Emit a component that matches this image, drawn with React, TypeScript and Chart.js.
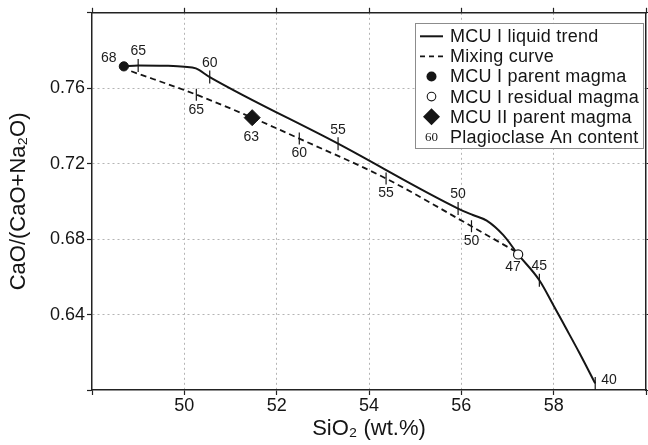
import React, { useEffect, useRef } from 'react';
import { Chart, registerables } from 'chart.js';

Chart.register(...registerables);

// ---------- data ----------
// MCU I liquid trend (solid curve)
const liquidSiO2 = [48.69, 49.0, 49.6, 50.0, 50.25, 50.55, 53.33, 55.93, 56.25, 56.55, 56.91, 57.23, 57.69, 58.0, 58.25, 58.55, 58.9];
const liquidRatio = [0.7716, 0.7721, 0.7719, 0.7714, 0.7705, 0.7659, 0.7306, 0.6962, 0.6928, 0.6898, 0.6821, 0.6719, 0.6582, 0.6447, 0.6335, 0.6200, 0.6035];

// Mixing curve (dashed)
const mixSiO2 = [48.85, 50.26, 51.47, 52.49, 54.37, 56.22, 57.17];
const mixRatio = [0.7690, 0.7566, 0.7444, 0.7333, 0.7121, 0.6868, 0.6735];

// Plagioclase An content marks on the liquid trend
const liquidAnSiO2 = [49.0, 50.55, 53.33, 55.93, 57.69, 58.9];
const liquidAnRatio = [0.7721, 0.7659, 0.7306, 0.6962, 0.6582, 0.6035];
const liquidAnLabels = ['65', '60', '55', '50', '45', '40'];

// Plagioclase An content marks on the mixing curve
const mixAnSiO2 = [50.26, 52.49, 54.37, 56.22];
const mixAnRatio = [0.7566, 0.7333, 0.7121, 0.6868];
const mixAnLabels = ['65', '60', '55', '50'];

// Magmas
const mcu1Parent = [48.69, 0.7716];
const mcu1ParentAn = '68';
const mcu1Residual = [57.23, 0.6719];
const mcu1ResidualAn = '47';
const mcu2Parent = [51.47, 0.7444];
const mcu2ParentAn = '63';

// Axes
const xMin = 48, xMax = 60, xStep = 2;
const yMin = 0.60, yMax = 0.80, yStep = 0.04;
const xTitle = 'SiO₂ (wt.%)';
const yTitle = 'CaO/(CaO+Na₂O)';

// Legend
const legendLabels = [
  'MCU I liquid trend',
  'Mixing curve',
  'MCU I parent magma',
  'MCU I residual magma',
  'MCU II parent magma',
  'Plagioclase An content',
];
const legendAnSample = '60';

// ---------- helpers ----------
const SANS = '"Liberation Sans", Arial, Helvetica, sans-serif';
const INK = '#151515';
const pts = (xs: number[], ys: number[]) => xs.map((x, i) => ({ x, y: ys[i] }));
const near = (a: number, b: number) => Math.abs(a - b) < 1e-6;

// label offsets (px) per dataset role
const labelPlacement: Record<string, (i: number) => [number, number, CanvasTextAlign]> = {
  liquidAn: (i) => (i === liquidAnLabels.length - 1 ? [6, -3, 'left'] : [0, -14, 'center']),
  mixAn: () => [0, 15, 'center'],
  parent1: () => [-15, -8, 'center'],
  residual1: () => [-5, 13, 'center'],
  parent2: () => [-1, 19, 'center'],
};

const anLabelPlugin = {
  id: 'anLabels',
  afterDatasetsDraw(chart: any) {
    const { ctx } = chart;
    const xs = chart.scales.x;
    const ys = chart.scales.y;
    ctx.save();
    ctx.font = `14px ${SANS}`;
    ctx.fillStyle = '#1c1c1c';
    ctx.textBaseline = 'middle';
    chart.data.datasets.forEach((ds: any) => {
      if (!ds.anLabels) return;
      const place = labelPlacement[ds.role];
      ds.data.forEach((p: any, i: number) => {
        const [dx, dy, align] = place(i);
        ctx.textAlign = align;
        ctx.fillText(ds.anLabels[i], xs.getPixelForValue(p.x) + dx, ys.getPixelForValue(p.y) + dy);
      });
    });
    ctx.restore();
  },
};

const legendPlugin = {
  id: 'boxLegend',
  afterDraw(chart: any) {
    const { ctx, chartArea } = chart;
    const R = chartArea.right - 3;
    const L = R - 228;
    const T = chartArea.top + 10;
    const H = 125;
    ctx.save();
    ctx.fillStyle = '#ffffff';
    ctx.fillRect(L, T, R - L, H);
    ctx.strokeStyle = '#8c8c8c';
    ctx.lineWidth = 1;
    ctx.strokeRect(Math.round(L) + 0.5, Math.round(T) + 0.5, R - L, H);
    const sx = L + 16.5;
    const tx = L + 35;
    const row0 = T + 13.5;
    const step = 20.1;
    legendLabels.forEach((label, i) => {
      const cy = row0 + i * step;
      ctx.save();
      ctx.strokeStyle = INK;
      ctx.fillStyle = INK;
      if (i === 0 || i === 1) {
        ctx.lineWidth = i === 0 ? 2 : 1.8;
        ctx.setLineDash(i === 0 ? [] : [5, 4]);
        ctx.beginPath();
        ctx.moveTo(sx - 11.5, cy);
        ctx.lineTo(sx + 11.5, cy);
        ctx.stroke();
      } else if (i === 2) {
        ctx.beginPath();
        ctx.arc(sx, cy, 5, 0, Math.PI * 2);
        ctx.fill();
      } else if (i === 3) {
        ctx.lineWidth = 1.1;
        ctx.beginPath();
        ctx.arc(sx, cy, 4.3, 0, Math.PI * 2);
        ctx.stroke();
      } else if (i === 4) {
        ctx.beginPath();
        ctx.moveTo(sx - 8.5, cy);
        ctx.lineTo(sx, cy - 8.5);
        ctx.lineTo(sx + 8.5, cy);
        ctx.lineTo(sx, cy + 8.5);
        ctx.closePath();
        ctx.fill();
      } else {
        ctx.font = '13px "Liberation Serif", "Times New Roman", serif';
        ctx.textAlign = 'center';
        ctx.textBaseline = 'middle';
        ctx.fillText(legendAnSample, sx, cy + 1);
      }
      ctx.restore();
      ctx.save();
      ctx.font = `18px ${SANS}`;
      ctx.fillStyle = INK;
      ctx.textAlign = 'left';
      ctx.textBaseline = 'middle';
      try { (ctx as any).letterSpacing = '0.25px'; } catch (e) { /* ignore */ }
      ctx.fillText(label, tx, cy + 1);
      ctx.restore();
    });
    ctx.restore();
  },
};

export default function App() {
  const ref = useRef<HTMLCanvasElement>(null);

  useEffect(() => {
    document.body.style.margin = '0';
    Chart.defaults.font.family = SANS;
    const canvas = ref.current;
    if (!canvas) return;

    const gridColor = (c: any) => {
      const v = c.tick ? c.tick.value : NaN;
      const edge = c.scale && c.scale.axis === 'x' ? near(v, xMin) || near(v, xMax) : near(v, yMin) || near(v, yMax);
      return edge ? 'rgba(0,0,0,0)' : '#b4b4b4';
    };

    const chart = new Chart(canvas, {
      type: 'scatter',
      data: {
        datasets: [
          {
            role: 'parent1',
            data: [{ x: mcu1Parent[0], y: mcu1Parent[1] }],
            anLabels: [mcu1ParentAn],
            pointStyle: 'circle',
            pointRadius: 4.6,
            pointBackgroundColor: INK,
            pointBorderColor: INK,
            pointBorderWidth: 1,
          } as any,
          {
            role: 'residual1',
            data: [{ x: mcu1Residual[0], y: mcu1Residual[1] }],
            anLabels: [mcu1ResidualAn],
            pointStyle: 'circle',
            pointRadius: 4.6,
            pointBackgroundColor: '#ffffff',
            pointBorderColor: INK,
            pointBorderWidth: 1.2,
          } as any,
          {
            role: 'parent2',
            data: [{ x: mcu2Parent[0], y: mcu2Parent[1] }],
            anLabels: [mcu2ParentAn],
            pointStyle: 'rectRot',
            pointRadius: 8,
            pointBackgroundColor: INK,
            pointBorderColor: INK,
            pointBorderWidth: 1,
          } as any,
          {
            role: 'liquidAn',
            data: pts(liquidAnSiO2, liquidAnRatio),
            anLabels: liquidAnLabels,
            pointStyle: 'line',
            rotation: 90,
            pointRadius: 6.5,
            pointBorderColor: INK,
            pointBorderWidth: 1.2,
          } as any,
          {
            role: 'mixAn',
            data: pts(mixAnSiO2, mixAnRatio),
            anLabels: mixAnLabels,
            pointStyle: 'line',
            rotation: 90,
            pointRadius: 6,
            pointBorderColor: INK,
            pointBorderWidth: 1.2,
          } as any,
          {
            role: 'liquid',
            data: pts(liquidSiO2, liquidRatio),
            showLine: true,
            borderColor: INK,
            borderWidth: 2,
            pointRadius: 0,
            cubicInterpolationMode: 'monotone',
          } as any,
          {
            role: 'mix',
            data: pts(mixSiO2, mixRatio),
            showLine: true,
            borderColor: INK,
            borderWidth: 1.8,
            borderDash: [6, 4],
            pointRadius: 0,
            cubicInterpolationMode: 'monotone',
          } as any,
        ],
      },
      options: {
        responsive: false,
        animation: false,
        events: [],
        layout: { padding: 0, autoPadding: false },
        plugins: {
          legend: { display: false },
          tooltip: { enabled: false },
        },
        scales: {
          x: {
            type: 'linear',
            position: 'bottom',
            min: xMin,
            max: xMax,
            afterFit: (s: any) => { s.height = 55; },
            ticks: {
              stepSize: xStep,
              autoSkip: false,
              maxRotation: 0,
              color: INK,
              padding: 0,
              font: { size: 18 },
              callback: (v: any) => (near(v, xMin) || near(v, xMax) ? '' : String(v)),
            },
            grid: { color: gridColor, lineWidth: 1, tickColor: '#222', tickLength: 5, tickWidth: 1.2 },
            border: { color: '#222', width: 1.5, dash: [2, 3] },
            title: { display: true, text: xTitle, color: INK, font: { size: 22 }, padding: { top: 0, bottom: 3 } },
          },
          x2: {
            type: 'linear',
            position: 'top',
            min: xMin,
            max: xMax,
            afterFit: (s: any) => { s.height = 12; },
            ticks: { stepSize: xStep, autoSkip: false, maxRotation: 0, padding: 0, callback: () => '' },
            grid: { drawOnChartArea: false, tickColor: '#222', tickLength: 5, tickWidth: 1.2 },
            border: { color: '#222', width: 1.5 },
          },
          y: {
            type: 'linear',
            position: 'left',
            min: yMin,
            max: yMax,
            afterFit: (s: any) => { s.width = 92; },
            ticks: {
              stepSize: yStep,
              autoSkip: false,
              color: INK,
              padding: 2,
              font: { size: 18 },
              callback: (v: any) => (near(v, yMin) || near(v, yMax) ? '' : Number(v).toFixed(2)),
            },
            grid: { color: gridColor, lineWidth: 1, tickColor: '#222', tickLength: 5, tickWidth: 1.2 },
            border: { color: '#222', width: 1.5, dash: [2, 3] },
            title: { display: true, text: yTitle, color: INK, font: { size: 22 }, padding: { top: 6, bottom: 0 } },
          },
          y2: {
            type: 'linear',
            position: 'right',
            min: yMin,
            max: yMax,
            afterFit: (s: any) => { s.width = 2; },
            ticks: { stepSize: yStep, autoSkip: false, padding: 0, callback: () => '' },
            grid: { drawOnChartArea: false, tickColor: '#222', tickLength: 5, tickWidth: 1.2 },
            border: { color: '#222', width: 1.5 },
          },
        },
      } as any,
      plugins: [anLabelPlugin, legendPlugin],
    });

    return () => chart.destroy();
  }, []);

  return (
    <div style={{ width: 648, height: 445 }}>
      <canvas ref={ref} width={648} height={445} style={{ display: 'block' }} />
    </div>
  );
}
